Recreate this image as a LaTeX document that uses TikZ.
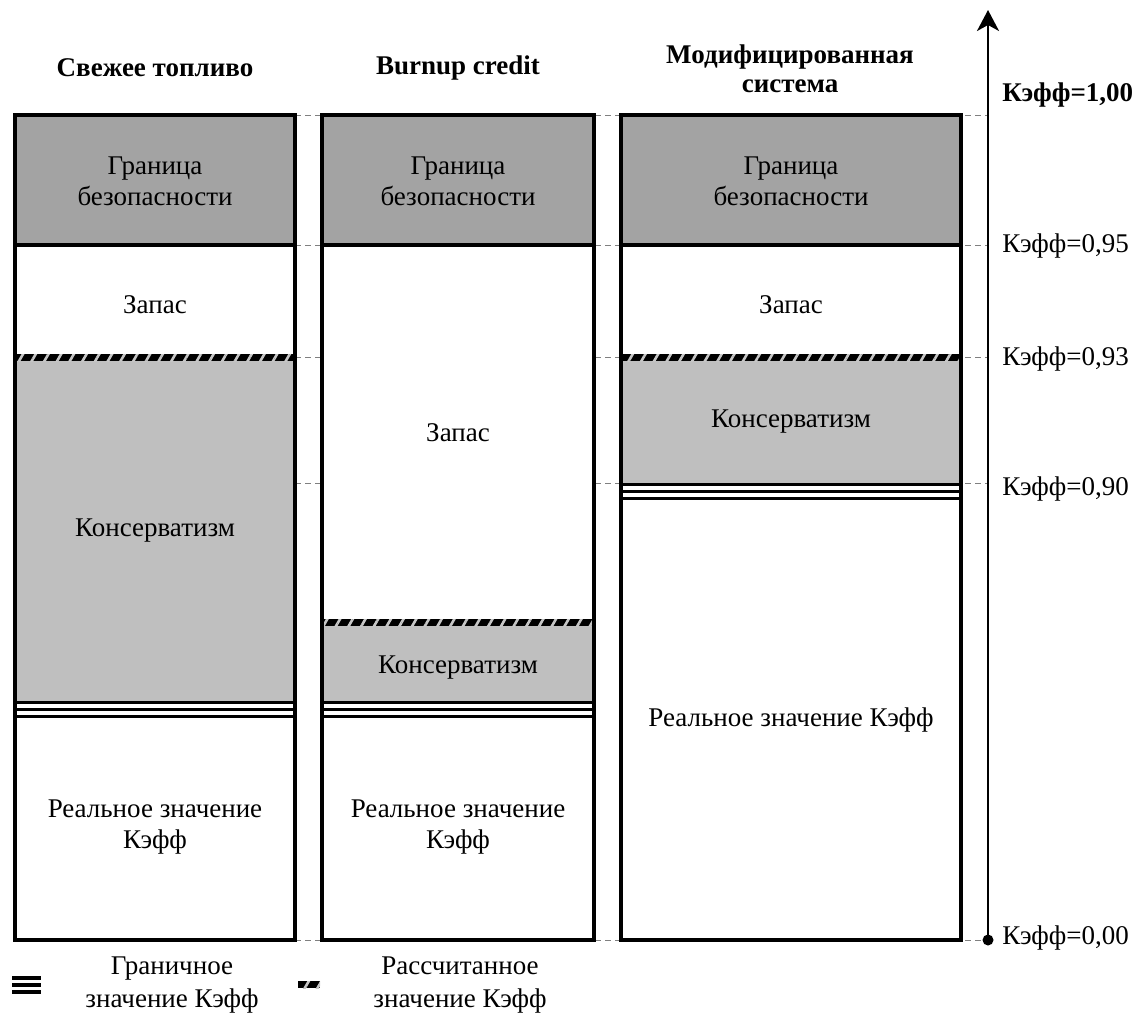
\documentclass[tikz,border=0pt]{standalone}
\usepackage{fontspec}
\setmainfont{Liberation Serif}
\usetikzlibrary{arrows.meta, patterns.meta, positioning}

\definecolor{marginGray}{gray}{0.64}
\definecolor{consGray}{gray}{0.75}

\tikzset{
  lbl/.style={align=center, inner sep=0pt, font=\fontsize{13.5}{15.5}\selectfont},
  ttl/.style={align=center, inner sep=0pt, font=\fontsize{13.5}{14.5}\selectfont\bfseries},
  marginfill/.style={fill=marginGray},
  consfill/.style={fill=consGray},
  boxline/.style={line width=2pt, line join=miter},
  limitline/.style={line width=1.5pt},
  estband/.style={preaction={fill=black}, pattern={Lines[angle=60,distance=5.5pt,line width=1.3pt]}, pattern color=gray!45},
  levelline/.style={gray, densely dashed, line width=0.4pt}
}

% three close lines: limit value of keff
\newcommand{\limitval}[3]{\foreach \d in {0,7,14} \draw[limitline] (#1,#3+\d) -- (#2,#3+\d);}

\begin{document}
\begin{tikzpicture}[x=0.5pt, y=-0.5pt]
  \useasboundingbox (0,0) rectangle (1138,1032);

  % level lines behind the columns
  \foreach \lv in {115,245,357,483,940}
    \draw[levelline] (295,\lv) -- (988,\lv);

  % column 1
  \fill[marginfill] (15,115) rectangle (295,245);
  \fill[white] (15,245) rectangle (295,357);
  \fill[consfill] (15,357) rectangle (295,702);
  \fill[white] (15,702) rectangle (295,940);
  \fill[estband] (15,354) rectangle (295,361);
  \limitval{15}{295}{702}
  \draw[boxline] (15,245) -- (295,245);
  \draw[boxline] (15,115) rectangle (295,940);

  % column 2
  \fill[marginfill] (322,115) rectangle (594,245);
  \fill[white] (322,245) rectangle (594,622);
  \fill[consfill] (322,622) rectangle (594,702);
  \fill[white] (322,702) rectangle (594,940);
  \fill[estband] (322,619) rectangle (594,626);
  \limitval{322}{594}{702}
  \draw[boxline] (322,245) -- (594,245);
  \draw[boxline] (322,115) rectangle (594,940);

  % column 3
  \fill[marginfill] (621,115) rectangle (961,245);
  \fill[white] (621,245) rectangle (961,357);
  \fill[consfill] (621,357) rectangle (961,484);
  \fill[white] (621,484) rectangle (961,940);
  \fill[estband] (621,354) rectangle (961,361);
  \limitval{621}{961}{484}
  \draw[boxline] (621,245) -- (961,245);
  \draw[boxline] (621,115) rectangle (961,940);

  % titles
  \node[ttl] (t1) at (155,68) {Свежее топливо};
  \node[ttl] (t2) at (458,68) {Burnup credit};
  \node[ttl] (t3) at (790,69) {Модифицированная\\система};

  % column texts
  \node[lbl] (c1margin) at (155,181) {Граница\\безопасности};
  \node[lbl] (c1res) at (155,305) {Запас};
  \node[lbl] (c1cons) at (155,531) {Консерватизм};
  \node[lbl] (c1real) at (155,827) {Реальное значение\\Кэфф};

  \node[lbl] (c2margin) at (458,181) {Граница\\безопасности};
  \node[lbl] (c2res) at (458,433) {Запас};
  \node[lbl] (c2cons) at (458,668) {Консерватизм};
  \node[lbl] (c2real) at (458,827) {Реальное значение\\Кэфф};

  \node[lbl] (c3margin) at (791,181) {Граница\\безопасности};
  \node[lbl] (c3res) at (791,305) {Запас};
  \node[lbl] (c3cons) at (791,422) {Консерватизм};
  \node[lbl] (c3real) at (791,720) {Реальное значение Кэфф};

  % keff axis
  \coordinate (ax0) at (988,940);
  \coordinate (ax1) at (988,10);
  \draw[line width=1.25pt, -{Stealth[length=10.5pt, width=11pt, inset=3pt]}] (ax0) -- (ax1);
  \fill (ax0) circle (5.5);

  \node[lbl, anchor=west, font=\fontsize{13.5}{15.5}\selectfont\bfseries] (k100) at (1002,95) {Кэфф=1,00};
  \node[lbl, anchor=west] (k095) at (1002,246) {Кэфф=0,95};
  \node[lbl, anchor=west] (k093) at (1002,359) {Кэфф=0,93};
  \node[lbl, anchor=west] (k090) at (1002,489) {Кэфф=0,90};
  \node[lbl, anchor=west] (k000) at (1002,938) {Кэфф=0,00};

  % legend
  \foreach \d in {0,7,14}
    \draw[line width=1.6pt] (12,978+\d) -- (41,978+\d);
  \node[lbl, font=\fontsize{13.5}{16.5}\selectfont] (leglimit) at (172,985) {Граничное\\значение Кэфф};
  \fill[estband] (298,981) rectangle (320,988);
  \node[lbl, font=\fontsize{13.5}{16.5}\selectfont] (legest) at (460,985) {Рассчитанное\\значение Кэфф};
\end{tikzpicture}
\end{document}
